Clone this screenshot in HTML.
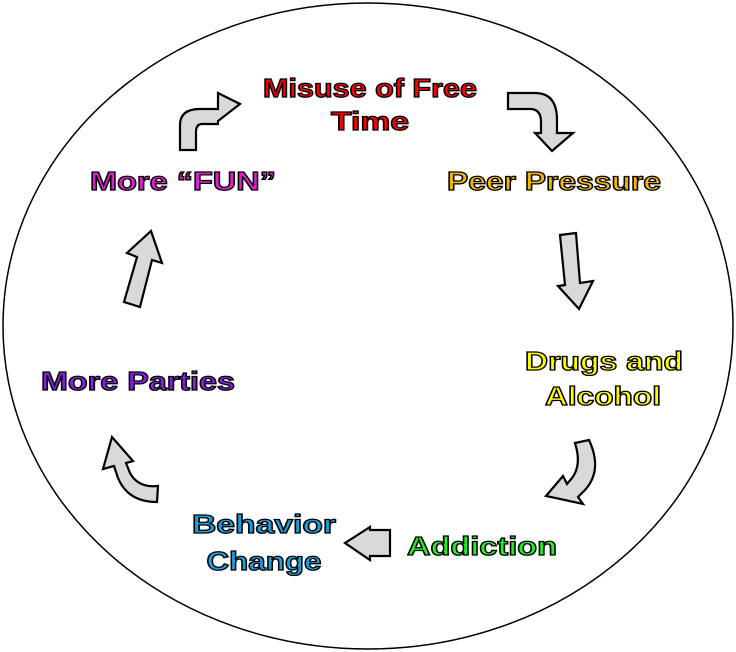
<!DOCTYPE html>
<html><head><style>
html,body{margin:0;padding:0;background:#fff;}
svg{display:block}
text{font-family:"Liberation Sans",sans-serif;font-weight:bold;font-size:26px;stroke:#000;stroke-width:1.3;text-anchor:middle}
.ar{fill:#d9d9d9;stroke:#000;stroke-width:2.2;stroke-linejoin:miter}
</style></head><body>
<svg width="736" height="652" viewBox="0 0 736 652">
<ellipse cx="368" cy="326" rx="365" ry="323" fill="#fff" stroke="#000" stroke-width="1.5"/>
<text x="370" y="97" fill="#ff0000" textLength="214" lengthAdjust="spacingAndGlyphs">Misuse of Free</text>
<text x="370" y="130" fill="#ff0000" textLength="78" lengthAdjust="spacingAndGlyphs">Time</text>
<text x="554" y="190" fill="#f5b800" textLength="214" lengthAdjust="spacingAndGlyphs">Peer Pressure</text>
<text x="183" y="190" fill="#e020d0" textLength="186" lengthAdjust="spacingAndGlyphs">More “FUN”</text>
<text x="604" y="370" fill="#ffff00" textLength="158" lengthAdjust="spacingAndGlyphs">Drugs and</text>
<text x="603" y="405" fill="#ffff00" textLength="116" lengthAdjust="spacingAndGlyphs">Alcohol</text>
<text x="138" y="390" fill="#8a1ee0" textLength="194" lengthAdjust="spacingAndGlyphs">More Parties</text>
<text x="264" y="533" fill="#1aa0e0" textLength="144" lengthAdjust="spacingAndGlyphs">Behavior</text>
<text x="264" y="570" fill="#1aa0e0" textLength="115" lengthAdjust="spacingAndGlyphs">Change</text>
<text x="482" y="555" fill="#22ee22" textLength="150" lengthAdjust="spacingAndGlyphs">Addiction</text>
<!-- top-left curved arrow -->
<path class="ar" d="M180,150 L180,125 Q180,109 200,109 L218,109 L218,93 L240,104 L218,121 L218,124 L202,124 Q196,124 196,132 L196,150 Z"/>
<!-- top-right curved arrow -->
<path class="ar" d="M508,93 L535,93 Q557,93 557,120 L557,133 L573,133 L552,151 L535,133 L541,133 L541,122 Q541,109 530,109 L508,109 Z"/>
<!-- down arrow -->
<path class="ar" d="M560,235 L576,233 L580,283 L593,281 L579,309 L558,286 L565,285 Z"/>
<!-- lower-right curved arrow -->
<path class="ar" d="M575,443 L589,440 Q603,470 585,490 L578,497 L583,504 L546,496 L563,476 L567,484 L572,478 Q582,465 575,443 Z"/>
<!-- left arrow -->
<path class="ar" d="M390,530 L370,530 L370,527 L345,543 L370,560 L370,556 L390,556 Z"/>
<!-- lower-left curved arrow -->
<path class="ar" d="M158,486 L157,502 Q128,502 118,478 L114,466 L103,469 L112,437 L133,461 L126,463 L130,473 Q138,488 158,486 Z"/>
<!-- up arrow -->
<path class="ar" d="M124,302 L137,257 L127,253 L151,231 L162,263 L152,260 L140,307 Z"/>
</svg>
</body></html>
